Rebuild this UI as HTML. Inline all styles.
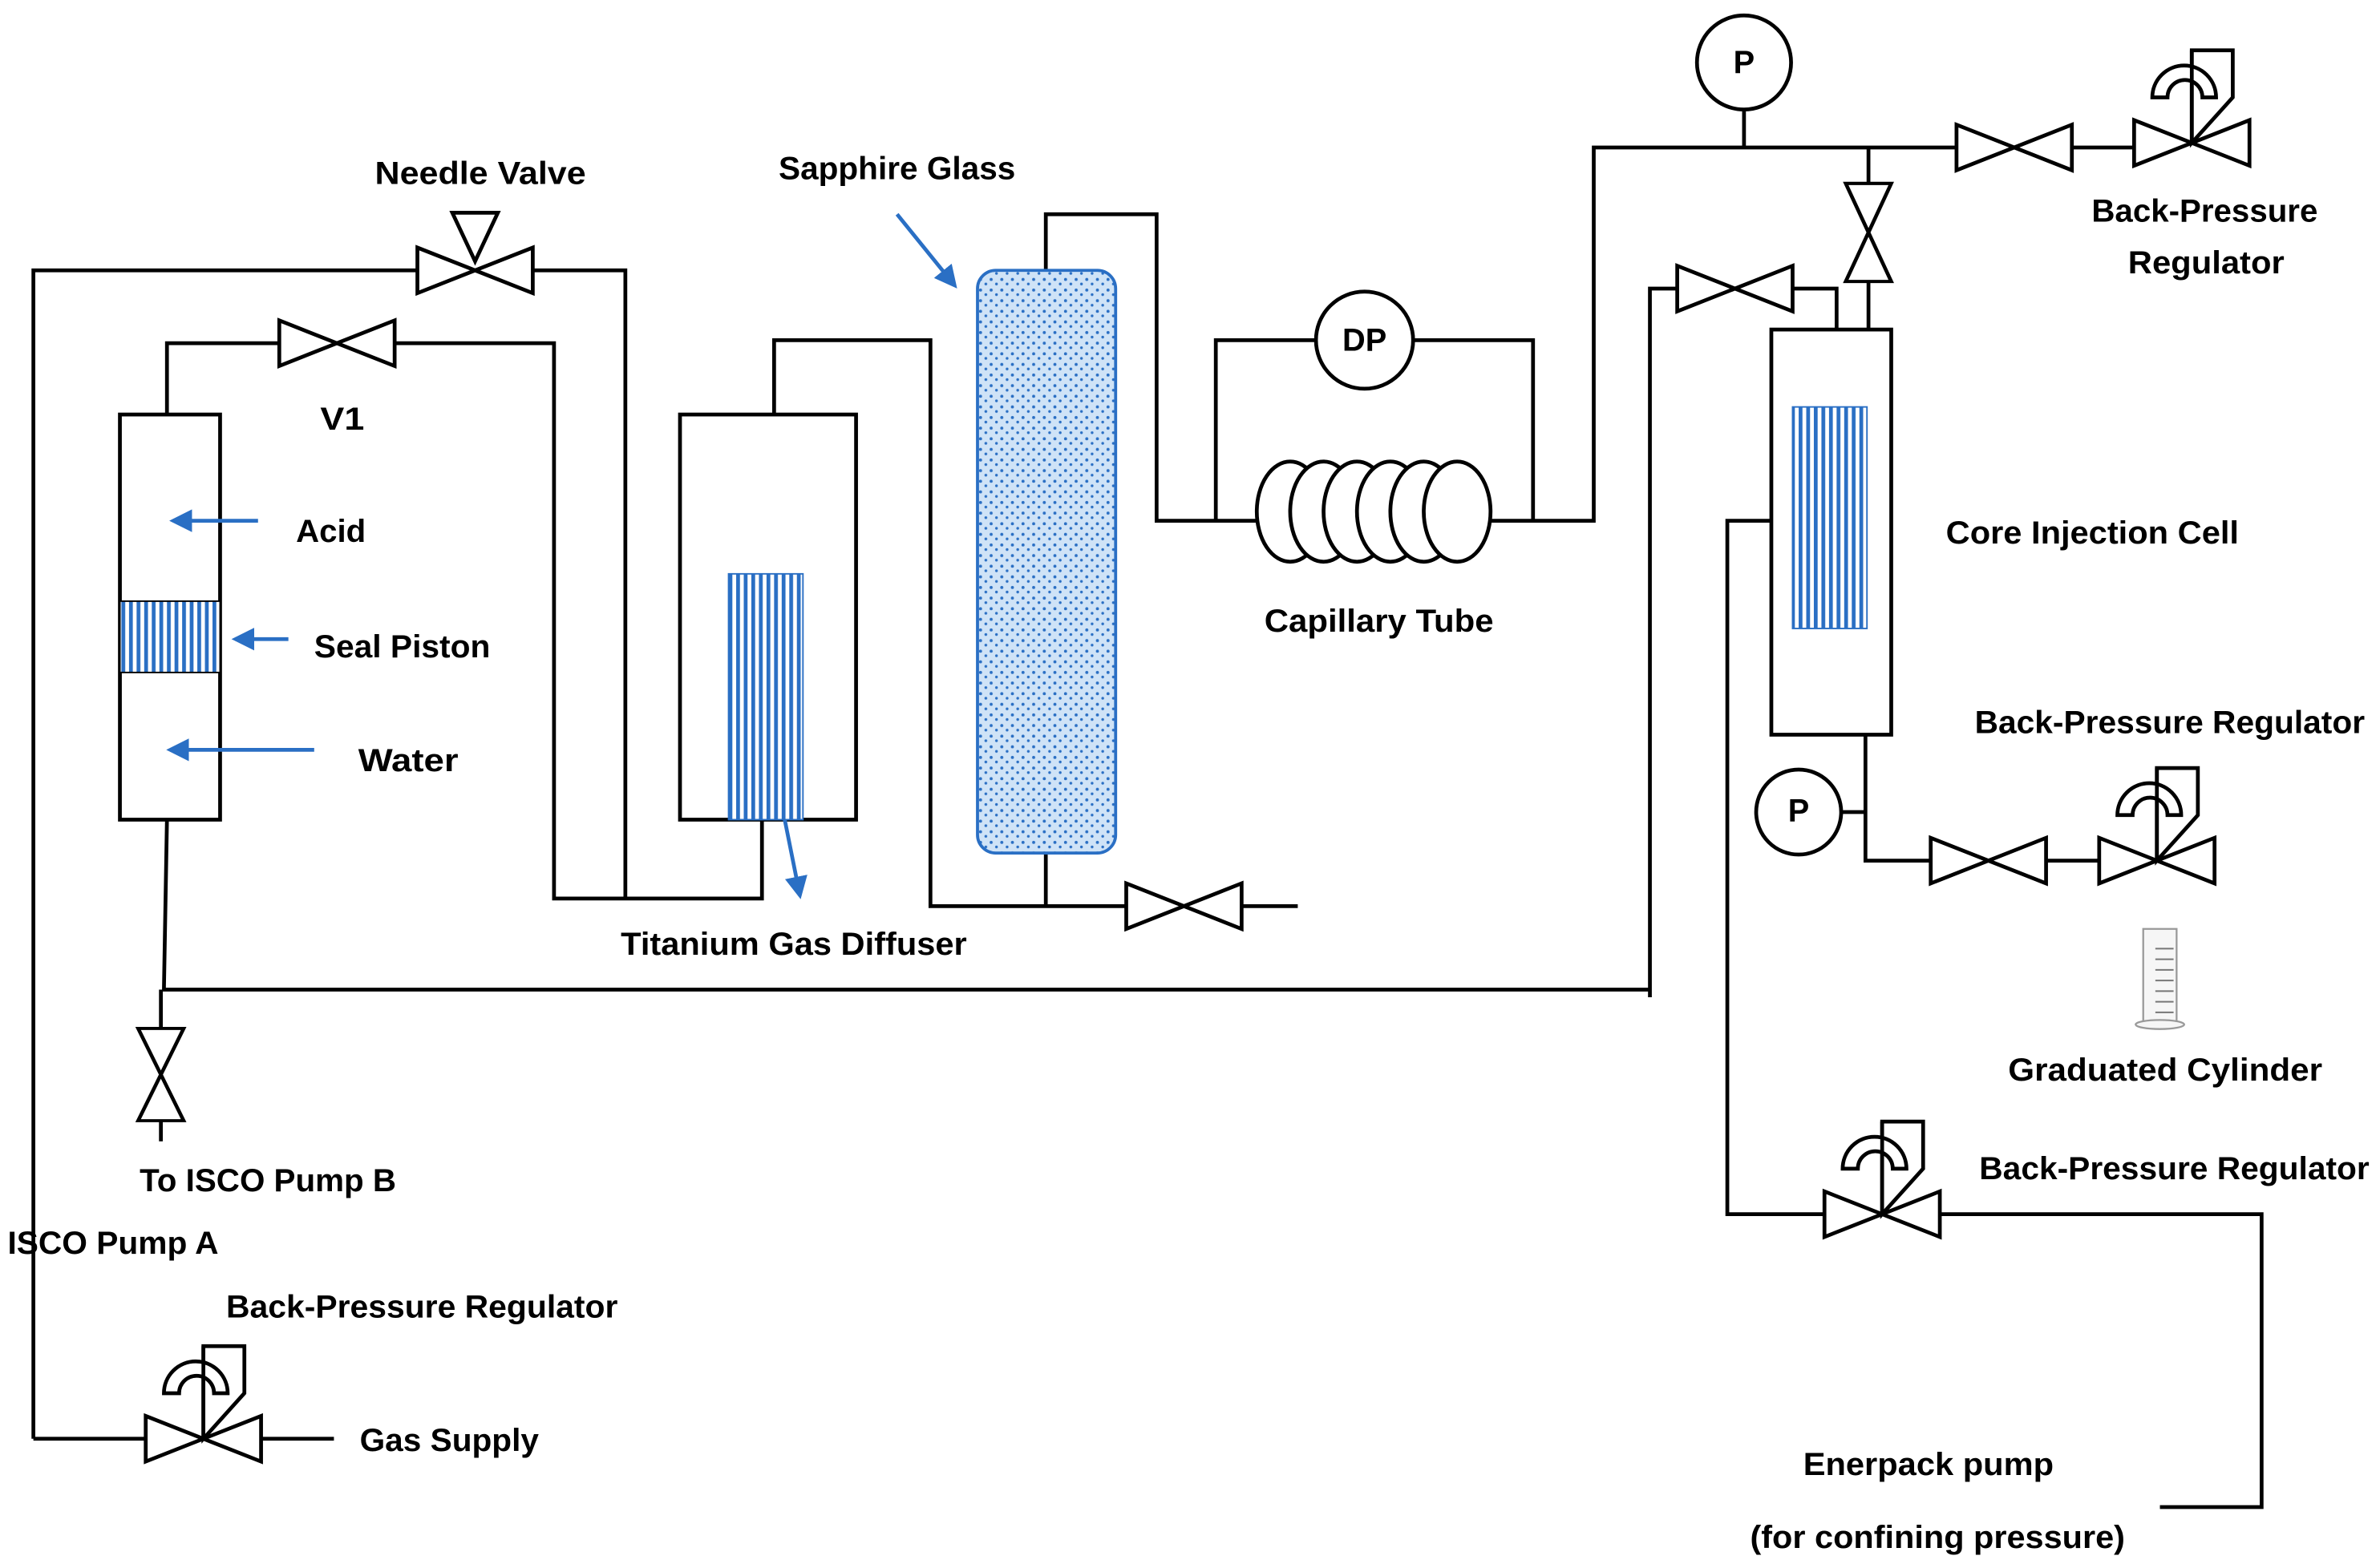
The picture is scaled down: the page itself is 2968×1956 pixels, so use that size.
<!DOCTYPE html>
<html><head><meta charset="utf-8"><style>
html,body{margin:0;padding:0;background:#fff}
svg{display:block}
text{font-family:"Liberation Sans",sans-serif;font-weight:bold;font-size:21px;fill:#000}
</style></head><body>
<svg width="2968" height="1956" viewBox="0 0 1568 1033" xmlns="http://www.w3.org/2000/svg">
<defs>
<pattern id="stripe" width="5" height="10" patternUnits="userSpaceOnUse">
<rect width="5" height="10" fill="#fff"/><rect width="2.5" height="10" fill="#2a6fc4"/></pattern>
<pattern id="dots" width="7" height="7" patternUnits="userSpaceOnUse">
<rect width="7" height="7" fill="#cfe3f7"/><circle cx="2" cy="2" r="1" fill="#2a6fc4"/><circle cx="5.5" cy="5" r="0.9" fill="#2a6fc4"/></pattern>
<g id="valve"><path d="M-38,-15 L38,15 L38,-15 L-38,15 Z" fill="#fff" stroke="#000" stroke-width="2.5" stroke-linejoin="miter"/></g>
<g id="bpr">
<path d="M-38,-15 L38,15 L38,-15 L-38,15 Z" fill="#fff" stroke="#000" stroke-width="2.5"/>
<path d="M0,0 L0,-61 L27,-61 L27,-30 Z" fill="none" stroke="#000" stroke-width="2.5"/>
<path d="M-26,-30 A21,21 0 0 1 16,-30 L7,-30 A11.5,11.5 0 0 0 -16,-30 Z" fill="#fff" stroke="#000" stroke-width="2.5"/>
<line x1="0" y1="0" x2="0" y2="-61" stroke="#000" stroke-width="2.5"/>
</g>
<marker id="ar" markerWidth="6" markerHeight="6" refX="5" refY="3" orient="auto"><path d="M0,0 L6,3 L0,6 Z" fill="#2a6fc4"/></marker>
</defs>
<g stroke="#000" stroke-width="2.5" fill="none">
<polyline points="22,948 22,178 412,178 412,592"/>
<polyline points="96,948 22,948"/><line x1="172" y1="948" x2="220" y2="948"/>
<rect x="79" y="273" width="66" height="267" fill="#fff"/>
<polyline points="110,273 110,226 365,226 365,592 502,592 502,540"/>
<rect x="448" y="273" width="116" height="267" fill="#fff"/>
<polyline points="510,273 510,224 613,224 613,597 855,597"/>
<line x1="689" y1="560" x2="689" y2="597"/>
<polyline points="689,178 689,141 762,141 762,343 828,343"/>
<polyline points="801,343 801,224 867,224"/><polyline points="931,224 1010,224 1010,343"/>
<polyline points="982,343 1050,343 1050,97 1407,97"/>
<line x1="1149" y1="72" x2="1149" y2="97"/>
<polyline points="1231,97 1231,217"/>
<polyline points="1087,657 1087,190 1210,190 1210,217"/>
<polyline points="110,540 108,652 1087,652"/>
<line x1="106" y1="652" x2="106" y2="752"/>
<polyline points="1167,343 1138,343 1138,800 1490,800 1490,993 1423,993"/>
<polyline points="1229,484 1229,567 1384,567"/>
<rect x="1167" y="217" width="79" height="267" fill="#fff"/>
</g>
<rect x="79" y="396" width="66" height="47" fill="url(#stripe)" stroke="#000" stroke-width="1"/>
<rect x="480" y="378" width="49" height="162" fill="url(#stripe)" stroke="#2a6fc4" stroke-width="1"/>
<rect x="1181" y="268" width="49" height="146" fill="url(#stripe)" stroke="#2a6fc4" stroke-width="1"/>
<rect x="644" y="178" width="91" height="384" rx="12" fill="url(#dots)" stroke="#2a6fc4" stroke-width="2"/>
<use href="#valve" x="313" y="178"/>
<path d="M298,140 L328,140 L313,172 Z" fill="#fff" stroke="#000" stroke-width="2.5"/>
<use href="#valve" x="222" y="226"/>
<use href="#valve" x="780" y="597"/>
<use href="#valve" x="1327" y="97"/>
<use href="#valve" x="1143" y="190"/>
<use href="#valve" x="1310" y="567"/>
<g transform="translate(1231,153) rotate(90) scale(0.85,1)"><use href="#valve"/></g>
<g transform="translate(106,708) rotate(90) scale(0.8,1)"><use href="#valve"/></g>
<use href="#bpr" x="1444" y="94"/>
<use href="#bpr" x="1421" y="567"/>
<use href="#bpr" x="1240" y="800"/>
<use href="#bpr" x="134" y="948"/>
<g stroke="#000" stroke-width="2.5" fill="#fff">
<circle cx="1149" cy="41" r="31"/><circle cx="899" cy="224" r="32"/><circle cx="1185" cy="535" r="28"/>
</g>
<line x1="1213" y1="535" x2="1229" y2="535" stroke="#000" stroke-width="2.5"/>
<text x="1149" y="48" text-anchor="middle" font-size="17">P</text>
<text x="899" y="231" text-anchor="middle" font-size="17">DP</text>
<text x="1185" y="541" text-anchor="middle" font-size="17">P</text>
<g stroke="#000" stroke-width="2.5" fill="#fff">
<ellipse cx="850" cy="337" rx="22" ry="33"/><ellipse cx="872" cy="337" rx="22" ry="33"/>
<ellipse cx="894" cy="337" rx="22" ry="33"/><ellipse cx="916" cy="337" rx="22" ry="33"/>
<ellipse cx="938" cy="337" rx="22" ry="33"/><ellipse cx="960" cy="337" rx="22" ry="33"/>
</g>
<g stroke="#999" stroke-width="1.2" fill="#f6f6f6">
<rect x="1412" y="612" width="22" height="62"/>
<ellipse cx="1423" cy="675" rx="16" ry="3"/>
</g>
<g stroke="#777" stroke-width="1"><line x1="1420" y1="625" x2="1432" y2="625"/><line x1="1420" y1="632" x2="1432" y2="632"/><line x1="1420" y1="639" x2="1432" y2="639"/><line x1="1420" y1="646" x2="1432" y2="646"/><line x1="1420" y1="653" x2="1432" y2="653"/><line x1="1420" y1="660" x2="1432" y2="660"/><line x1="1420" y1="667" x2="1432" y2="667"/></g>
<g stroke="#2a6fc4" stroke-width="2.5" marker-end="url(#ar)">
<line x1="170" y1="343" x2="114" y2="343"/>
<line x1="190" y1="421" x2="155" y2="421"/>
<line x1="207" y1="494" x2="112" y2="494"/>
<line x1="517" y1="540" x2="527" y2="590"/>
<line x1="591" y1="141" x2="629" y2="188"/>
</g>
<g lengthAdjust="spacingAndGlyphs">
<text x="247" y="121" textLength="139" lengthAdjust="spacingAndGlyphs">Needle Valve</text>
<text x="513" y="118" textLength="156" lengthAdjust="spacingAndGlyphs">Sapphire Glass</text>
<text x="211" y="283" textLength="29" lengthAdjust="spacingAndGlyphs">V1</text>
<text x="195" y="357" textLength="46" lengthAdjust="spacingAndGlyphs">Acid</text>
<text x="207" y="433" textLength="116" lengthAdjust="spacingAndGlyphs">Seal Piston</text>
<text x="236" y="508" textLength="66" lengthAdjust="spacingAndGlyphs">Water</text>
<text x="833" y="416" textLength="151" lengthAdjust="spacingAndGlyphs">Capillary Tube</text>
<text x="409" y="629" textLength="228" lengthAdjust="spacingAndGlyphs">Titanium Gas Diffuser</text>
<text x="1378" y="146" textLength="149" lengthAdjust="spacingAndGlyphs">Back-Pressure</text>
<text x="1402" y="180" textLength="103" lengthAdjust="spacingAndGlyphs">Regulator</text>
<text x="1282" y="358" textLength="193" lengthAdjust="spacingAndGlyphs">Core Injection Cell</text>
<text x="1301" y="483" textLength="257" lengthAdjust="spacingAndGlyphs">Back-Pressure Regulator</text>
<text x="1323" y="712" textLength="207" lengthAdjust="spacingAndGlyphs">Graduated Cylinder</text>
<text x="1304" y="777" textLength="257" lengthAdjust="spacingAndGlyphs">Back-Pressure Regulator</text>
<text x="92" y="785" textLength="169" lengthAdjust="spacingAndGlyphs">To ISCO Pump B</text>
<text x="5" y="826" textLength="139" lengthAdjust="spacingAndGlyphs">ISCO Pump A</text>
<text x="149" y="868" textLength="258" lengthAdjust="spacingAndGlyphs">Back-Pressure Regulator</text>
<text x="237" y="956" textLength="118" lengthAdjust="spacingAndGlyphs">Gas Supply</text>
<text x="1188" y="972" textLength="165" lengthAdjust="spacingAndGlyphs">Enerpack pump</text>
<text x="1153" y="1020" textLength="247" lengthAdjust="spacingAndGlyphs">(for confining pressure)</text>
</g>
</svg>
</body></html>
